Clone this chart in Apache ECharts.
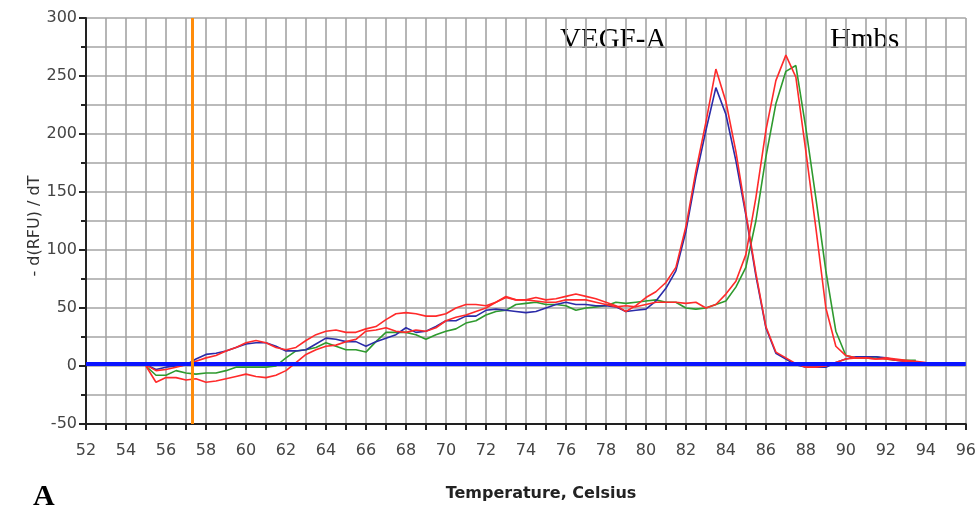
<!DOCTYPE html>
<html><head><meta charset="utf-8">
<script src="https://cdn.jsdelivr.net/npm/echarts@6/dist/echarts.min.js"></script>
<style>html,body{margin:0;padding:0;background:#fff}#c{width:979px;height:512px}</style>
</head><body><div id="c"></div>
<script>
const temps = [55,55.5,56,56.5,57,57.5,58,58.5,59,59.5,60,60.5,61,61.5,62,62.5,63,63.5,64,64.5,
65,65.5,66,66.5,67,67.5,68,68.5,69,69.5,70,70.5,71,71.5,72,72.5,73,73.5,74,
74.5,75,75.5,76,76.5,77,77.5,78,78.5,79,79.5,80,80.5,81,81.5,82,82.5,83,83.5,84,84.5,85,85.5,86,86.5,87,87.5,88,88.5,89,89.5,90,90.5,91,91.5,92,92.5,93,93.5,94];
const vegfRed = [1,-4,-3,-1,1,4,7,9,13,16,20,22,20,16,14,16,22,27,30,31,
29,29,32,34,40,45,46,45,43,43,45,50,53,53,52,55,60,57,57,
59,57,58,60,62,60,58,55,52,47,52,59,64,72,85,120,168,210,256,228,185,132,80,34,12,7,2,-1,-1,0,3,6,7,7,6,6,5,4,3,null];
const vegfBlue = [1,-3,-1,0,1,6,10,11,13,16,19,20,20,17,13,13,14,19,24,23,
21,21,17,21,24,27,33,29,30,34,39,39,43,43,48,49,48,47,46,
47,50,53,55,53,53,52,52,51,47,48,49,56,67,82,116,163,203,240,217,177,130,78,33,11,6,1,-1,-1,-1,3,6,8,8,8,7,5,4,3,null];
const hmbsRed = [0,-14,-10,-10,-12,-11,-14,-13,-11,-9,-7,-9,-10,-8,-4,3,10,14,17,18,
21,23,30,31,33,30,29,31,30,33,39,42,44,47,50,55,59,57,57,
56,55,55,57,57,57,55,53,51,52,51,53,55,55,55,54,55,50,53,62,73,96,145,203,246,268,249,185,119,50,17,9,7,7,6,7,6,5,4,3];
const hmbsGreen = [0,-8,-8,-4,-6,-7,-6,-6,-4,-1,-1,-1,-1,0,7,13,14,16,20,17,
14,14,12,21,29,29,29,27,23,27,30,32,37,39,44,47,48,53,54,
55,53,53,52,48,50,51,52,55,54,55,56,57,55,55,50,49,50,53,56,68,85,125,180,226,254,259,205,145,82,30,9,7,7,8,6,5,5,5,null];
const baselineValue = 2;
const cursorTemp = 57.3;
const xTickLabels = [52,54,56,58,60,62,64,66,68,70,72,74,76,78,80,82,84,86,88,90,92,94,96];
const yTickLabels = [-50,0,50,100,150,200,250,300];

const pairs = v => temps.map((t,i) => [t, v[i]]);
const chart = echarts.init(document.getElementById('c'), null, {renderer:'canvas'});
const gridLine = {show:true, lineStyle:{color:'#a4a4a4', width:1.6}};
const labelStyle = {color:'#444', fontFamily:'DejaVu Sans', fontSize:16};
function curve(name, data, color){
  return {name, type:'line', data:pairs(data), showSymbol:false, symbol:'none',
    lineStyle:{color, width:1.6}, itemStyle:{color}, connectNulls:false, animation:false, z:3};
}
chart.setOption({
  animation:false,
  backgroundColor:'#fff',
  grid:{left:86, right:13, top:18, bottom:88, containLabel:false},
  xAxis:{type:'value', min:xTickLabels[0], max:xTickLabels[xTickLabels.length-1], interval:2,
    axisLine:{show:true, onZero:false, lineStyle:{color:'#222', width:2}},
    axisTick:{show:true, length:6, lineStyle:{color:'#222', width:2}},
    minorTick:{show:true, splitNumber:2, length:6, lineStyle:{color:'#222', width:2}},
    splitLine:gridLine, minorSplitLine:gridLine,
    axisLabel:Object.assign({margin:19}, labelStyle)},
  yAxis:{type:'value', min:yTickLabels[0], max:yTickLabels[yTickLabels.length-1], interval:50,
    axisLine:{show:true, onZero:false, lineStyle:{color:'#222', width:2}},
    axisTick:{show:true, length:7, lineStyle:{color:'#222', width:2}},
    minorTick:{show:true, splitNumber:2, length:5, lineStyle:{color:'#222', width:2}},
    splitLine:gridLine, minorSplitLine:gridLine,
    axisLabel:Object.assign({margin:9}, labelStyle)},
  series:[
    curve('Hmbs green', hmbsGreen, '#2e9a2e'),
    curve('VEGF-A blue', vegfBlue, '#2b2ba8'),
    curve('Hmbs red', hmbsRed, '#ff2a2a'),
    curve('VEGF-A red', vegfRed, '#ff2a2a'),
    {type:'line', data:[], z:5, markLine:{silent:true, symbol:'none', animation:false, label:{show:false},
      data:[
        {yAxis:baselineValue, lineStyle:{color:'#0a14ff', width:4, type:'solid'}},
        {xAxis:cursorTemp, lineStyle:{color:'#ff8c0a', width:3, type:'solid'}}
      ]}}
  ],
  graphic:[
    {type:'text', x:560, y:55, style:{text:'VEGF-A', font:'29px "Liberation Serif"', fill:'#000', textVerticalAlign:'bottom'}},
    {type:'text', x:830, y:55, style:{text:'Hmbs', font:'29px "Liberation Serif"', fill:'#000', textVerticalAlign:'bottom'}},
    {type:'text', x:33, y:512, style:{text:'A', font:'bold 30px "Liberation Serif"', fill:'#000', textVerticalAlign:'bottom'}},
    {type:'text', x:541, y:494, style:{text:'Temperature, Celsius', font:'bold 16px "DejaVu Sans"', fill:'#222', textAlign:'center', textVerticalAlign:'middle'}},
    {type:'text', x:35, y:226, rotation:Math.PI/2, style:{text:'- d(RFU) / dT', font:'16px "DejaVu Sans"', fill:'#333', textAlign:'center', textVerticalAlign:'middle'}}
  ]
});
</script></body></html>
